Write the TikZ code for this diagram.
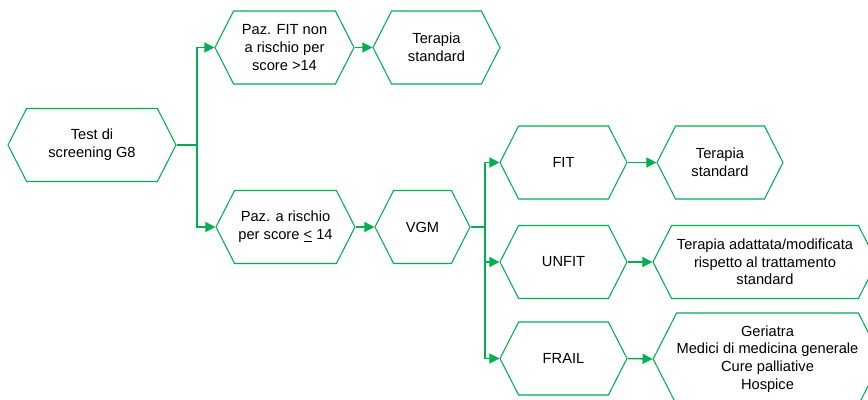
\documentclass[tikz,border=0pt]{standalone}
\usepackage{fontspec}
\setmainfont{Liberation Sans}
\usetikzlibrary{shapes.symbols,arrows.meta}

\definecolor{verde}{RGB}{0,176,80}
\def\px{0.75pt}     % one pixel of the layout
\def\hexh{73}       % usual height of a box

\tikzset{
  hexa/.style={shape=signal, signal to=west and east, signal pointer angle=126,
    draw=verde, line width=0.8pt, fill=white, inner sep=0pt, align=center,
    minimum width=#1*\px, minimum height=\hexh*\px,
    font=\fontsize{11}{13.3}\selectfont},
  linea/.style={draw=verde, line width=1.1pt},
  freccia/.style={linea, -{Triangle[length=7.5pt,width=7.5pt]}},
}

\begin{document}
\begin{tikzpicture}[x=\px,y=-\px]
  \useasboundingbox (0,0) rectangle (868,400);
  % first level
  \node[hexa=168] (test)    at (92,145)    {Test di\\screening G8};
  \node[hexa=139] (fitnon)  at (284.5,47.5) {Paz. FIT non\\a rischio per\\score >14};
  \node[hexa=127] (std1)    at (436.5,47.5) {Terapia\\standard};
  \node[hexa=139] (rischio) at (285.5,227) {Paz. a rischio\\per score \underline{<} 14};
  \node[hexa=95]  (vgm)     at (422.5,227) {VGM};
  % outcome of the VGM
  \node[hexa=127] (fit)     at (563.5,162.5) {FIT};
  \node[hexa=126] (std2)    at (720,162.5) {Terapia\\standard};
  \node[hexa=127] (unfit)   at (563.5,262) {UNFIT};
  \node[hexa=224] (adatt)   at (765,262)   {Terapia adattata/modificata\\rispetto al trattamento\\standard};
  \node[hexa=127] (frail)   at (563.5,358.5) {FRAIL};
  \node[hexa=223, minimum height=92*\px] (geriatra) at (767.5,359)
    {Geriatra\\Medici di medicina generale\\Cure palliative\\Hospice};

  % connectors
  \coordinate (j1) at (197,145);
  \coordinate (j2) at (485,227);
  \draw[linea] (test.east) -- (j1);
  \draw[freccia] (j1) |- (fitnon.west);
  \draw[freccia] (j1) |- (rischio.west);
  \draw[freccia] (fitnon.east) -- (std1.west);
  \draw[freccia] (rischio.east) -- (vgm.west);
  \draw[linea] (vgm.east) -- (j2);
  \foreach \dest/\next in {fit/std2, unfit/adatt, frail/geriatra} {
    \draw[freccia] (j2) |- (\dest.west);           % branch from the trunk
    \draw[freccia] (\dest.east) -- (\next.west);   % and on to the care
  }
\end{tikzpicture}
\end{document}
